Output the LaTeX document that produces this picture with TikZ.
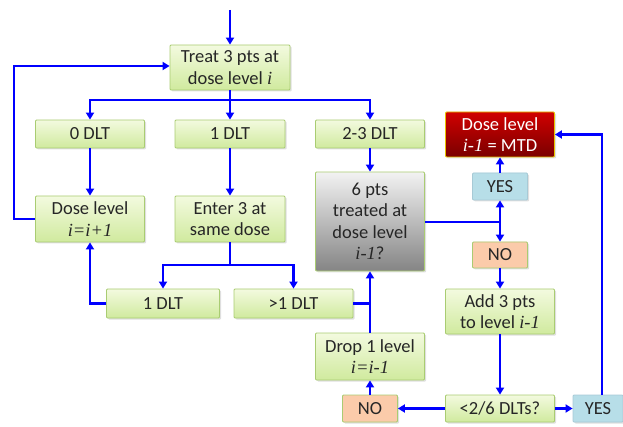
\documentclass[tikz,border=0pt]{standalone}
\usepackage{fontspec}
\setmainfont{Carlito}
\newfontfamily\serifit{Liberation Serif}
\usetikzlibrary{arrows.meta, shadows}
\definecolor{flowblue}{HTML}{0000FF}
\definecolor{greentop}{HTML}{F3FADF}
\definecolor{greenbot}{HTML}{D0EA9E}
\definecolor{greenline}{HTML}{A9CC72}
\definecolor{redtop}{HTML}{D00000}
\definecolor{redbot}{HTML}{7A0000}
\definecolor{redline}{HTML}{E8C400}
\definecolor{yesfill}{HTML}{B7DEE8}
\definecolor{yesline}{HTML}{A7CAD6}
\definecolor{nofill}{HTML}{FBCBAA}
\definecolor{textgray}{HTML}{262626}
\newcommand{\iv}[1]{{\serifit\itshape #1}}
\tikzset{
    base/.style={draw=greenline, line width=0.8pt, rectangle, rounded corners=1pt, align=center,
        font=\fontsize{18.5}{21.5}\selectfont, text=textgray, inner sep=0pt,
        top color=greentop, bottom color=greenbot,
        drop shadow={opacity=0.25, shadow xshift=1.5pt, shadow yshift=-1.5pt}},
    graybox/.style={base, top color=white!95!black, bottom color=black!48},
    mtdbox/.style={base, draw=redline, top color=redtop, bottom color=redbot, text=white},
    yesbox/.style={base, draw=yesline, fill=yesfill, top color=yesfill, bottom color=yesfill},
    nobox/.style={base, fill=nofill, top color=nofill, bottom color=nofill},
    arrow/.style={draw=flowblue, line width=2.2pt, -{Triangle[length=7pt,width=8pt]}},
    line/.style={draw=flowblue, line width=2.2pt}
}

\begin{document}
\begin{tikzpicture}[x=1pt, y=-1pt]
\useasboundingbox (0,0) rectangle (623,427);
% left column
\node[base, minimum width=120pt, minimum height=45pt] (treat) at (230,67.5) {Treat 3 pts at\\dose level \iv{i}};
\node[base, minimum width=109pt, minimum height=28pt] (zero) at (90,134) {0 DLT};
\node[base, minimum width=110pt, minimum height=28pt] (one) at (230,134) {1 DLT};
\node[base, minimum width=109pt, minimum height=28pt] (twothree) at (370,134) {2-3 DLT};
\node[base, minimum width=109pt, minimum height=46pt] (up) at (90,219) {Dose level\\\iv{i=i+1}};
\node[base, minimum width=110pt, minimum height=46pt] (enter) at (230,219) {Enter 3 at\\same dose};
\node[graybox, minimum width=109pt, minimum height=99pt] (six) at (370,221.5) {6 pts\\treated at\\dose level\\\iv{i-1}?};
\node[base, minimum width=113pt, minimum height=29pt] (oneagain) at (163,303.5) {1 DLT};
\node[base, minimum width=119pt, minimum height=29pt] (more) at (293.5,303.5) {>1 DLT};
\node[base, minimum width=109pt, minimum height=47pt] (drop) at (370,356.5) {Drop 1 level\\\iv{i=i-1}};
\node[nobox, minimum width=55pt, minimum height=27pt] (noleft) at (370,408.5) {NO};
% right column
\node[mtdbox, minimum width=109pt, minimum height=45pt] (mtd) at (500,134.5) {Dose level\\\iv{i-1} = MTD};
\node[yesbox, minimum width=55pt, minimum height=27pt] (yestop) at (500,186.5) {YES};
\node[nobox, minimum width=55pt, minimum height=26pt] (noright) at (500,255) {NO};
\node[base, minimum width=109pt, minimum height=45pt] (add) at (500,311.5) {Add 3 pts\\to level \iv{i-1}};
\node[base, minimum width=109pt, minimum height=27pt] (check) at (500,408.5) {<2/6 DLTs?};
\node[yesbox, minimum width=50pt, minimum height=27pt] (yesright) at (598,408.5) {YES};
% helper points
\coordinate (start) at (230,10);
\coordinate (fork) at (230,100);
\coordinate (forkb) at (230,265);
\coordinate (joint) at (500,222);
% connectors
\draw[arrow] (start) -- (treat);
\draw[arrow] (treat) -- (one);
\draw[arrow] (fork) -| (zero);
\draw[arrow] (fork) -| (twothree);
\draw[arrow] (zero) -- (up);
\draw[arrow] (one) -- (enter);
\draw[arrow] (twothree) -- (six);
\draw[arrow] (up.west) -- ++(-21,0) |- ([yshift=1.5pt]treat.west);
\draw[line] (enter) -- (forkb);
\draw[arrow] (forkb) -| (oneagain);
\draw[arrow] (forkb) -| (more);
\draw[arrow] (oneagain.west) -| (up.south);
\draw[line] (more.east) -- (more.east -| six.south);
\draw[arrow] (drop) -- (six);
\draw[arrow] (noleft) -- (drop);
\draw[arrow] (check) -- (noleft);
\draw[arrow] (check) -- (yesright);
\draw[arrow] ([xshift=4pt]yesright.north) |- (mtd.east);
\draw[line] (six.east |- joint) -- (joint);
\draw[arrow] (joint) -- (yestop);
\draw[arrow] (joint) -- (noright);
\draw[arrow] (yestop) -- (mtd);
\draw[arrow] (noright) -- (add);
\draw[arrow] (add) -- (check);
\end{tikzpicture}
\end{document}
